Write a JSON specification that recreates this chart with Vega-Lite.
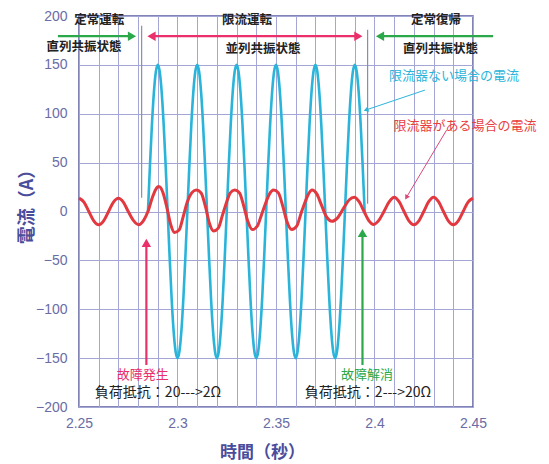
{
  "$schema": "https://vega.github.io/schema/vega-lite/v6.json",
  "width": 394,
  "height": 391,
  "autosize": "none",
  "padding": {"left": 79, "top": 16, "right": 76, "bottom": 57},
  "background": "white",
  "config": {
    "view": {"stroke": "#5a5c9e", "strokeWidth": 1.5},
    "font": "Noto Sans CJK JP",
    "axis": {
      "grid": true, "gridColor": "#a4a6d6", "gridWidth": 1, "gridOpacity": 1,
      "domain": false, "ticks": false, "tickSize": 0,
      "labelFont": "Liberation Sans", "labelFontSize": 14, "labelColor": "#6a6ca6",
      "titleFont": "Noto Sans CJK JP", "titleFontWeight": "bold", "titleColor": "#4a4c9c",
      "labelOverlap": false, "labelFlush": false
    }
  },
  "datasets": {
    "cyan": [
      {"t":2.285,"v":0},{"t":2.286,"v":46.4},{"t":2.287,"v":88.2},{"t":2.288,"v":121.4},{"t":2.289,"v":142.7},
      {"t":2.290,"v":150},{"t":2.291,"v":142.7},{"t":2.292,"v":121.4},{"t":2.293,"v":88.2},{"t":2.294,"v":46.4},
      {"t":2.295,"v":0},{"t":2.296,"v":-46.4},{"t":2.297,"v":-88.2},{"t":2.298,"v":-121.4},{"t":2.299,"v":-142.7},
      {"t":2.300,"v":-150},{"t":2.301,"v":-142.7},{"t":2.302,"v":-121.4},{"t":2.303,"v":-88.2},{"t":2.304,"v":-46.4},
      {"t":2.305,"v":0},{"t":2.306,"v":46.4},{"t":2.307,"v":88.2},{"t":2.308,"v":121.4},{"t":2.309,"v":142.7},
      {"t":2.310,"v":150},{"t":2.311,"v":142.7},{"t":2.312,"v":121.4},{"t":2.313,"v":88.2},{"t":2.314,"v":46.4},
      {"t":2.315,"v":0},{"t":2.316,"v":-46.4},{"t":2.317,"v":-88.2},{"t":2.318,"v":-121.4},{"t":2.319,"v":-142.7},
      {"t":2.320,"v":-150},{"t":2.321,"v":-142.7},{"t":2.322,"v":-121.4},{"t":2.323,"v":-88.2},{"t":2.324,"v":-46.4},
      {"t":2.325,"v":0},{"t":2.326,"v":46.4},{"t":2.327,"v":88.2},{"t":2.328,"v":121.4},{"t":2.329,"v":142.7},
      {"t":2.330,"v":150},{"t":2.331,"v":142.7},{"t":2.332,"v":121.4},{"t":2.333,"v":88.2},{"t":2.334,"v":46.4},
      {"t":2.335,"v":0},{"t":2.336,"v":-46.4},{"t":2.337,"v":-88.2},{"t":2.338,"v":-121.4},{"t":2.339,"v":-142.7},
      {"t":2.340,"v":-150},{"t":2.341,"v":-142.7},{"t":2.342,"v":-121.4},{"t":2.343,"v":-88.2},{"t":2.344,"v":-46.4},
      {"t":2.345,"v":0},{"t":2.346,"v":46.4},{"t":2.347,"v":88.2},{"t":2.348,"v":121.4},{"t":2.349,"v":142.7},
      {"t":2.350,"v":150},{"t":2.351,"v":142.7},{"t":2.352,"v":121.4},{"t":2.353,"v":88.2},{"t":2.354,"v":46.4},
      {"t":2.355,"v":0},{"t":2.356,"v":-46.4},{"t":2.357,"v":-88.2},{"t":2.358,"v":-121.4},{"t":2.359,"v":-142.7},
      {"t":2.360,"v":-150},{"t":2.361,"v":-142.7},{"t":2.362,"v":-121.4},{"t":2.363,"v":-88.2},{"t":2.364,"v":-46.4},
      {"t":2.365,"v":0},{"t":2.366,"v":46.4},{"t":2.367,"v":88.2},{"t":2.368,"v":121.4},{"t":2.369,"v":142.7},
      {"t":2.370,"v":150},{"t":2.371,"v":142.7},{"t":2.372,"v":121.4},{"t":2.373,"v":88.2},{"t":2.374,"v":46.4},
      {"t":2.375,"v":0},{"t":2.376,"v":-46.4},{"t":2.377,"v":-88.2},{"t":2.378,"v":-121.4},{"t":2.379,"v":-142.7},
      {"t":2.380,"v":-150},{"t":2.381,"v":-142.7},{"t":2.382,"v":-121.4},{"t":2.383,"v":-88.2},{"t":2.384,"v":-46.4},
      {"t":2.385,"v":0},{"t":2.386,"v":46.4},{"t":2.387,"v":88.2},{"t":2.388,"v":121.4},{"t":2.389,"v":142.7},
      {"t":2.390,"v":150},{"t":2.391,"v":142.7},{"t":2.392,"v":121.4},{"t":2.393,"v":88.2},{"t":2.394,"v":46.4},
      {"t":2.395,"v":0}
    ],
    "red": [
      {"t":2.25,"v":13.6},{"t":2.2525,"v":9.6},{"t":2.255,"v":0},{"t":2.2575,"v":-9.6},{"t":2.26,"v":-13.6},
      {"t":2.2625,"v":-9.6},{"t":2.265,"v":0},{"t":2.2675,"v":9.6},{"t":2.27,"v":13.6},{"t":2.2725,"v":9.6},
      {"t":2.275,"v":0},{"t":2.2778,"v":-9.6},{"t":2.2803,"v":-13.5},{"t":2.2828,"v":-9},{"t":2.285,"v":0},
      {"t":2.2872,"v":14},{"t":2.2888,"v":22},{"t":2.2905,"v":25.5},{"t":2.2925,"v":20},{"t":2.2945,"v":5},
      {"t":2.2965,"v":-13},{"t":2.2985,"v":-21.5},{"t":2.3008,"v":-19},{"t":2.3028,"v":-6},{"t":2.305,"v":10},
      {"t":2.3072,"v":19},{"t":2.3095,"v":22},{"t":2.312,"v":19},{"t":2.3142,"v":5},{"t":2.3162,"v":-12},
      {"t":2.3183,"v":-20},{"t":2.3207,"v":-17},{"t":2.3228,"v":-4},{"t":2.325,"v":10},{"t":2.3268,"v":19},
      {"t":2.329,"v":22},{"t":2.3315,"v":19},{"t":2.3337,"v":5},{"t":2.3357,"v":-10},{"t":2.338,"v":-18.5},
      {"t":2.3405,"v":-15},{"t":2.3427,"v":-3},{"t":2.345,"v":10},{"t":2.3467,"v":18},{"t":2.3488,"v":22},
      {"t":2.3512,"v":19},{"t":2.3535,"v":5},{"t":2.3555,"v":-10},{"t":2.358,"v":-18.5},{"t":2.3605,"v":-15},
      {"t":2.3627,"v":-2},{"t":2.365,"v":11},{"t":2.3665,"v":18},{"t":2.3683,"v":22},{"t":2.3707,"v":18},
      {"t":2.373,"v":7},{"t":2.3755,"v":-5},{"t":2.3785,"v":-10},{"t":2.381,"v":-7},{"t":2.3845,"v":4},
      {"t":2.3872,"v":12},{"t":2.3897,"v":14.6},{"t":2.3922,"v":10},{"t":2.3947,"v":0},{"t":2.3972,"v":-9.6},
      {"t":2.3995,"v":-13.3},{"t":2.402,"v":-9.6},{"t":2.4048,"v":0},{"t":2.4075,"v":10},{"t":2.41,"v":14.6},
      {"t":2.4125,"v":10},{"t":2.415,"v":0},{"t":2.4175,"v":-9.6},{"t":2.42,"v":-13.6},{"t":2.4225,"v":-9.6},
      {"t":2.425,"v":0},{"t":2.4275,"v":10},{"t":2.43,"v":14.6},{"t":2.4325,"v":10},{"t":2.435,"v":0},
      {"t":2.4375,"v":-9.6},{"t":2.44,"v":-13.6},{"t":2.4425,"v":-9.6},{"t":2.445,"v":0},{"t":2.4475,"v":9.6},
      {"t":2.45,"v":13.6}
    ],
    "markers": [
      {"t":2.2818,"v":190,"v2":14},
      {"t":2.3965,"v":186,"v2":8}
    ],
    "arrows": [
      {"t":2.2393,"v":179.4,"t2":2.2769,"v2":179.4,"kind":"normal","type":"main"},
      {"t":2.2868,"v":179.4,"t2":2.3918,"v2":179.4,"kind":"limit","type":"main"},
      {"t":2.4028,"v":179.4,"t2":2.4602,"v2":179.4,"kind":"normal","type":"main"},
      {"t":2.2842,"v":-157,"t2":2.2842,"v2":-32,"kind":"fault","type":"main"},
      {"t":2.3939,"v":-157,"t2":2.3939,"v2":-22,"kind":"clear","type":"main"},
      {"t":2.4256,"v":124.2,"t2":2.3957,"v2":103.9,"kind":"nolimit","type":"note"},
      {"t":2.4366,"v":83.3,"t2":2.4162,"v2":14.4,"kind":"withlimitArrow","type":"note"}
    ],
    "heads": [
      {"t":2.2769,"v":179.4,"dir":"right","kind":"normal"},
      {"t":2.2868,"v":179.4,"dir":"left","kind":"limit"},
      {"t":2.3918,"v":179.4,"dir":"right","kind":"limit"},
      {"t":2.4028,"v":179.4,"dir":"left","kind":"normal"},
      {"t":2.2842,"v":-32,"dir":"up","kind":"fault"},
      {"t":2.3939,"v":-22,"dir":"up","kind":"clear"},
      {"t":2.3957,"v":103.9,"dir":"cyanNote","kind":"nolimit"},
      {"t":2.4162,"v":14.4,"dir":"redNote","kind":"withlimitArrow"}
    ],
    "labels": [
      {"t":2.2603,"v":196,"label":"定常運転","style":"head"},
      {"t":2.2526,"v":168,"label":"直列共振状態","style":"head"},
      {"t":2.3353,"v":196,"label":"限流運転","style":"head"},
      {"t":2.3434,"v":166,"label":"並列共振状態","style":"head"},
      {"t":2.4312,"v":196,"label":"定常復帰","style":"head"},
      {"t":2.4335,"v":166,"label":"直列共振状態","style":"head"},
      {"t":2.2901,"v":-186,"label":"負荷抵抗：20--->2Ω","style":"plain"},
      {"t":2.3967,"v":-186,"label":"負荷抵抗：2--->20Ω","style":"plain"},
      {"t":2.2824,"v":-167,"label":"故障発生","style":"color","kind":"fault"},
      {"t":2.3962,"v":-167,"label":"故障解消","style":"color","kind":"clear"},
      {"t":2.4404,"v":138.5,"label":"限流器ない場合の電流","style":"color","kind":"nolimit"},
      {"t":2.4459,"v":87.4,"label":"限流器がある場合の電流","style":"color","kind":"withlimit"}
    ]
  },
  "encoding": {
    "x": {
      "field": "t", "type": "quantitative",
      "scale": {"domain": [2.25, 2.45], "nice": false, "zero": false},
      "axis": {
        "values": [2.25,2.26,2.27,2.28,2.29,2.3,2.31,2.32,2.33,2.34,2.35,2.36,2.37,2.38,2.39,2.4,2.41,2.42,2.43,2.44,2.45],
        "labelExpr": "abs(datum.value*20 - round(datum.value*20)) < 0.01 ? format(datum.value, '.2~f') : ''",
        "labelPadding": 9,
        "title": "時間（秒）", "titleFontSize": 17,
        "titleX": 183, "titleY": 45, "titleAlign": "center", "titleBaseline": "middle"
      }
    },
    "y": {
      "field": "v", "type": "quantitative",
      "scale": {"domain": [-200, 200], "nice": false, "zero": false},
      "axis": {
        "values": [-200,-150,-100,-50,0,50,100,150,200],
        "labelPadding": 12,
        "title": "電流（A）", "titleFontSize": 18,
        "titleX": -52, "titleY": 186, "titleAlign": "center", "titleBaseline": "middle", "titleAngle": -90
      }
    }
  },
  "layer": [
    {
      "data": {"name": "markers"},
      "mark": {"type": "rule", "color": "#8a8cb0", "strokeWidth": 1.2},
      "encoding": {"y2": {"field": "v2"}}
    },
    {
      "data": {"name": "cyan"},
      "mark": {"type": "line", "color": "#2bb4da", "strokeWidth": 2.6, "interpolate": "monotone"},
      "encoding": {}
    },
    {
      "data": {"name": "red"},
      "mark": {"type": "line", "color": "#e2383f", "strokeWidth": 3, "interpolate": "monotone"},
      "encoding": {}
    },
    {
      "data": {"name": "arrows"},
      "transform": [{"filter": "datum.type === 'main'"}],
      "mark": {"type": "rule", "strokeWidth": 2.2},
      "encoding": {
        "x2": {"field": "t2"}, "y2": {"field": "v2"},
        "color": {"field": "kind", "type": "nominal", "legend": null,
          "scale": {"domain": ["normal","limit","fault","clear","nolimit","withlimit","withlimitArrow"],
                    "range": ["#2ba84a","#ea2f6b","#ea2f6b","#2ba84a","#2bb4da","#e8403f","#d9487a"]}}
      }
    },
    {
      "data": {"name": "arrows"},
      "transform": [{"filter": "datum.type === 'note'"}],
      "mark": {"type": "rule", "strokeWidth": 1},
      "encoding": {
        "x2": {"field": "t2"}, "y2": {"field": "v2"},
        "color": {"field": "kind", "type": "nominal", "legend": null,
          "scale": {"domain": ["normal","limit","fault","clear","nolimit","withlimit","withlimitArrow"],
                    "range": ["#2ba84a","#ea2f6b","#ea2f6b","#2ba84a","#2bb4da","#e8403f","#d9487a"]}}
      }
    },
    {
      "data": {"name": "heads"},
      "transform": [{"filter": "datum.dir === 'right'"}],
      "mark": {"type": "point", "shape": "triangle-right", "filled": true, "opacity": 1, "size": 90},
      "encoding": {
        "color": {"field": "kind", "type": "nominal", "legend": null,
          "scale": {"domain": ["normal","limit","fault","clear","nolimit","withlimit","withlimitArrow"],
                    "range": ["#2ba84a","#ea2f6b","#ea2f6b","#2ba84a","#2bb4da","#e8403f","#d9487a"]}}
      }
    },
    {
      "data": {"name": "heads"},
      "transform": [{"filter": "datum.dir === 'left'"}],
      "mark": {"type": "point", "shape": "triangle-left", "filled": true, "opacity": 1, "size": 90},
      "encoding": {
        "color": {"field": "kind", "type": "nominal", "legend": null,
          "scale": {"domain": ["normal","limit","fault","clear","nolimit","withlimit","withlimitArrow"],
                    "range": ["#2ba84a","#ea2f6b","#ea2f6b","#2ba84a","#2bb4da","#e8403f","#d9487a"]}}
      }
    },
    {
      "data": {"name": "heads"},
      "transform": [{"filter": "datum.dir === 'up'"}],
      "mark": {"type": "point", "shape": "triangle-up", "filled": true, "opacity": 1, "size": 90},
      "encoding": {
        "color": {"field": "kind", "type": "nominal", "legend": null,
          "scale": {"domain": ["normal","limit","fault","clear","nolimit","withlimit","withlimitArrow"],
                    "range": ["#2ba84a","#ea2f6b","#ea2f6b","#2ba84a","#2bb4da","#e8403f","#d9487a"]}}
      }
    },
    {
      "data": {"name": "heads"},
      "transform": [{"filter": "datum.dir === 'cyanNote'"}],
      "mark": {"type": "point", "shape": "triangle-up", "filled": true, "opacity": 1, "size": 30, "angle": 251, "color": "#2bb4da"},
      "encoding": {}
    },
    {
      "data": {"name": "heads"},
      "transform": [{"filter": "datum.dir === 'redNote'"}],
      "mark": {"type": "point", "shape": "triangle-up", "filled": true, "opacity": 1, "size": 30, "angle": 211, "color": "#d9487a"},
      "encoding": {}
    },
    {
      "data": {"name": "labels"},
      "transform": [{"filter": "datum.style === 'head'"}],
      "mark": {"type": "text", "font": "Noto Sans CJK JP", "fontSize": 12.5, "fontWeight": "bold", "color": "#222222", "align": "center", "baseline": "middle"},
      "encoding": {"text": {"field": "label"}}
    },
    {
      "data": {"name": "labels"},
      "transform": [{"filter": "datum.style === 'plain'"}],
      "mark": {"type": "text", "font": "Noto Sans CJK JP", "fontSize": 14, "color": "#222222", "align": "center", "baseline": "middle"},
      "encoding": {"text": {"field": "label"}}
    },
    {
      "data": {"name": "labels"},
      "transform": [{"filter": "datum.style === 'color'"}],
      "mark": {"type": "text", "font": "Noto Sans CJK JP", "fontSize": 13, "align": "center", "baseline": "middle"},
      "encoding": {
        "text": {"field": "label"},
        "color": {"field": "kind", "type": "nominal", "legend": null,
          "scale": {"domain": ["normal","limit","fault","clear","nolimit","withlimit","withlimitArrow"],
                    "range": ["#2ba84a","#ea2f6b","#ea2f6b","#2ba84a","#2bb4da","#e8403f","#d9487a"]}}
      }
    }
  ]
}
